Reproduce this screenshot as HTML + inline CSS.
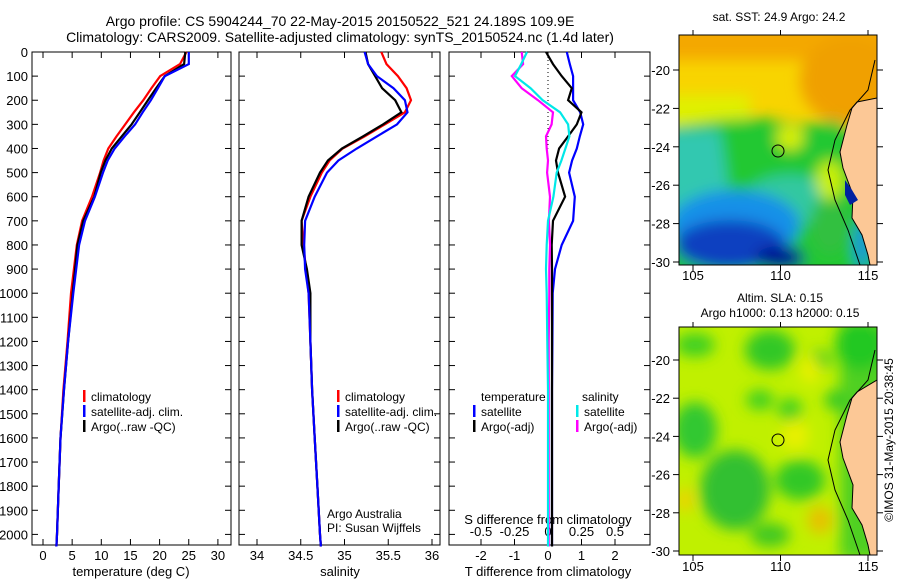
<!DOCTYPE html>
<html><head><meta charset="utf-8"><style>
body{margin:0;background:#fff}
svg{display:block}
text{font-family:"Liberation Sans",sans-serif;fill:#000}
</style></head><body>
<svg id="fig" width="900" height="580" viewBox="0 0 900 580">
<defs>
<filter id="bl" x="-20%" y="-20%" width="140%" height="140%"><feGaussianBlur stdDeviation="7"/></filter>
<clipPath id="c1"><rect x="679" y="35" width="198" height="230"/></clipPath>
<clipPath id="c2"><rect x="679" y="327" width="198" height="228"/></clipPath>
</defs>
<text x="340" y="26" font-size="14" text-anchor="middle">Argo profile: CS 5904244_70 22-May-2015 20150522_521 24.189S 109.9E</text>
<text x="340" y="42" font-size="14" text-anchor="middle">Climatology: CARS2009. Satellite-adjusted climatology: synTS_20150524.nc (1.4d later)</text>

<!-- SST map -->
<g>
<g clip-path="url(#c1)">
<rect x="679" y="35" width="198" height="230" fill="#f8d400"/>
<g filter="url(#bl)">
<rect x="660" y="130" width="240" height="160" fill="#20c040"/>
<rect x="660" y="20" width="240" height="40" fill="#f4a800"/>
<ellipse cx="850" cy="80" rx="50" ry="45" fill="#f0a000"/>
<rect x="660" y="95" width="90" height="30" fill="#e0f000"/>
<path d="M660,128 L720,120 L760,118 L800,125 L840,120 L900,280 L660,280 Z" fill="#20c830"/>
<path d="M660,130 L720,130 L730,200 L660,220 Z" fill="#30c8b0"/>
<ellipse cx="790" cy="138" rx="14" ry="12" fill="#d8f000"/>
<ellipse cx="790" cy="200" rx="45" ry="25" fill="#30c8a0"/>
<ellipse cx="735" cy="225" rx="65" ry="35" fill="#1890e8"/>
<ellipse cx="730" cy="245" rx="55" ry="25" fill="#1040c0"/>
<ellipse cx="780" cy="258" rx="25" ry="12" fill="#001890"/>
<ellipse cx="830" cy="225" rx="20" ry="30" fill="#30c040"/>
<ellipse cx="830" cy="180" rx="14" ry="20" fill="#c8f000"/>
<ellipse cx="862" cy="245" rx="8" ry="25" fill="#1890e0"/>
</g>
<path d="M877,98 L857,102 L852,108 L847,125 L840,152 L843,168 L853,195 L852,218 L862,235 L868,255 L870,265 L877,265 Z" fill="#fcc896" stroke="#000" stroke-width="1"/>
<path d="M845,180 L852,190 L858,200 L850,205 L845,195 Z" fill="#0020a0"/>
<path d="M875,60 L868,90 L850,110 L835,140 L828,170 L835,200 L848,230 L860,265" fill="none" stroke="#000" stroke-width="1"/>
</g>
<rect x="679" y="35" width="198" height="230" fill="none" stroke="#000"/>
<circle cx="778" cy="151" r="6" fill="none" stroke="#000"/>
<text x="779" y="21" font-size="12" text-anchor="middle">sat. SST: 24.9 Argo: 24.2</text>
</g>

<!-- SLA map -->
<g>
<g clip-path="url(#c2)">
<rect x="679" y="327" width="198" height="228" fill="#c0f000"/>
<g filter="url(#bl)">
<rect x="840" y="320" width="60" height="240" fill="#50d020"/>
<ellipse cx="695" cy="345" rx="20" ry="12" fill="#40d020"/>
<ellipse cx="770" cy="350" rx="25" ry="20" fill="#30c828"/>
<ellipse cx="860" cy="345" rx="25" ry="25" fill="#20c820"/>
<ellipse cx="820" cy="360" rx="12" ry="10" fill="#50d020"/>
<ellipse cx="760" cy="400" rx="14" ry="10" fill="#40d020"/>
<ellipse cx="790" cy="410" rx="12" ry="12" fill="#40d020"/>
<ellipse cx="835" cy="400" rx="10" ry="10" fill="#30c828"/>
<ellipse cx="695" cy="430" rx="22" ry="28" fill="#30c830"/>
<ellipse cx="735" cy="490" rx="35" ry="40" fill="#30c030"/>
<ellipse cx="800" cy="480" rx="25" ry="20" fill="#30c828"/>
<ellipse cx="770" cy="535" rx="20" ry="12" fill="#40c820"/>
<ellipse cx="820" cy="520" rx="12" ry="14" fill="#e8c000"/>
<ellipse cx="685" cy="500" rx="8" ry="12" fill="#f0d000"/>
<ellipse cx="795" cy="435" rx="14" ry="16" fill="#e8f000"/>
<ellipse cx="810" cy="370" rx="10" ry="14" fill="#e8f000"/>
</g>
<path d="M877,380 L857,392 L852,398 L847,415 L840,442 L843,458 L853,485 L852,508 L862,525 L868,545 L870,555 L877,555 Z" fill="#fcc896" stroke="#000" stroke-width="1"/>
<path d="M875,350 L868,380 L850,400 L835,430 L828,460 L835,490 L848,520 L860,555" fill="none" stroke="#000"/>
</g>
<rect x="679" y="327" width="198" height="228" fill="none" stroke="#000"/>
<circle cx="778" cy="440" r="6" fill="none" stroke="#000"/>
<text x="780" y="302" font-size="12" text-anchor="middle">Altim. SLA: 0.15</text>
<text x="780" y="317" font-size="12" text-anchor="middle">Argo h1000: 0.13 h2000: 0.15</text>
</g>
<text transform="translate(893,440) rotate(-90)" font-size="12" text-anchor="middle">©IMOS 31-May-2015 20:38:45</text>
<g id="dyn"></g>
</svg>
<script>
// depth levels (dbar)
const depths = [0,50,100,150,200,250,300,350,400,450,500,600,700,800,900,1000,1200,1400,1600,1800,2000,2050];
// temperature (deg C)
const tempClim  = [24.6,23.5,20.1,18.6,17.2,15.6,14.1,12.6,11.2,10.4,9.8,8.4,6.7,5.8,5.3,4.8,4.2,3.5,3.0,2.7,2.4,2.3];
const tempSat   = [25.0,25.0,20.9,19.7,18.5,17.1,15.8,14.0,12.3,11.1,10.3,8.9,7.2,6.2,5.7,5.2,4.3,3.6,3.0,2.7,2.4,2.3];
const tempArgo  = [24.4,24.2,20.9,19.4,18.0,16.6,15.2,13.5,11.8,10.7,9.9,8.8,6.9,5.9,5.5,5.1,4.3,3.6,3.0,2.7,2.4,2.3];
// salinity
const salClim = [35.42,35.48,35.61,35.71,35.76,35.69,35.46,35.23,34.98,34.83,34.74,34.61,34.51,34.53,34.56,34.59,34.61,34.63,34.66,34.69,34.72,34.73];
const salSat  = [35.23,35.27,35.37,35.56,35.69,35.72,35.60,35.37,35.14,34.93,34.80,34.66,34.55,34.54,34.55,34.59,34.61,34.63,34.66,34.69,34.72,34.73];
const salArgo = [35.24,35.27,35.35,35.43,35.58,35.65,35.44,35.21,34.97,34.81,34.72,34.59,34.51,34.51,34.57,34.61,34.61,34.63,34.66,34.69,34.72,34.73];
// differences from climatology
const tDiffSat  = [0.56,0.65,0.75,0.75,0.75,0.96,1.05,0.95,0.86,0.72,0.63,0.80,0.75,0.41,0.21,0.14,0.13,0.12,0.12,0.12,0.12,0.12];
const tDiffArgo = [-0.06,0.15,0.41,0.71,0.60,1.00,0.86,0.60,0.33,0.24,0.30,0.51,0.15,0.11,0.12,0.12,0.12,0.12,0.12,0.12,0.12,0.12];
const sDiffSat  = [-0.157,-0.20,-0.246,-0.13,-0.04,0.09,0.15,0.16,0.13,0.10,0.065,0.04,0.0,-0.01,-0.015,-0.01,-0.005,0,0,0,0,0];
const sDiffArgo = [-0.196,-0.186,-0.27,-0.196,-0.075,0.037,0.027,-0.015,-0.01,0,-0.007,0.015,0.007,0.015,0.01,0.01,0.005,0.005,0.005,0.005,0.005,0.005];
// tick labels
const depthTicks = [0,100,200,300,400,500,600,700,800,900,1000,1100,1200,1300,1400,1500,1600,1700,1800,1900,2000];
const tempTicks = [0,5,10,15,20,25,30];
const salTicks = [34,34.5,35,35.5,36];
const tDiffTicks = [-2,-1,0,1,2];
const sDiffTicks = [-0.5,-0.25,0,0.25,0.5];
const latTicks = [-20,-22,-24,-26,-28,-30];
const lonTicks = [105,110,115];

const NS='http://www.w3.org/2000/svg';
const root=document.getElementById('dyn');
function mk(tag,attrs,parent){const e=document.createElementNS(NS,tag);for(const k in attrs)e.setAttribute(k,attrs[k]);(parent||root).appendChild(e);return e;}
const TOP=52, BOT=545;
const yD = d => TOP + d*0.2412;
const xT = t => 43 + t*5.83;
const xS = s => 257 + (s-34)*87.5;
const xTd = v => 548 + v*33.5;
const xSd = v => 548 + v*134;
const panels=[[32,231],[239,440],[449,650]];

panels.forEach((p,i)=>{
  const r=mk('rect',{x:p[0],y:TOP,width:p[1]-p[0],height:BOT-TOP,fill:'none',stroke:'#000'});
  
  
  depthTicks.forEach(d=>{
    mk('line',{x1:p[0],x2:p[0]+6,y1:yD(d),y2:yD(d),stroke:'#000'});
    mk('line',{x1:p[1],x2:p[1]-6,y1:yD(d),y2:yD(d),stroke:'#000'});
  });
});
depthTicks.forEach(d=>{
  const t=mk('text',{x:28,y:yD(d)+5,'font-size':13,'text-anchor':'end'});
  
  
  t.textContent=d;
});
function xticks(vals,fx,p,y,ly,name){
  vals.forEach(v=>{
    const x=fx(v);
    mk('line',{x1:x,x2:x,y1:BOT,y2:BOT-6,stroke:'#000'});
    mk('line',{x1:x,x2:x,y1:TOP,y2:TOP+6,stroke:'#000'});
    const t=mk('text',{x:x,y:ly,'font-size':13,'text-anchor':'middle'});
    
    
    t.textContent=v;
  });
}
xticks(tempTicks,xT,panels[0],BOT,560,'temperature-tick-label');
xticks(salTicks,xS,panels[1],BOT,560,'salinity-tick-label');
xticks(tDiffTicks,xTd,panels[2],BOT,560,'t-diff-tick-label');
sDiffTicks.forEach(v=>{
  const t=mk('text',{x:xSd(v),y:536,'font-size':13,'text-anchor':'middle'});
  
  
  t.textContent=v;
});
function label(x,y,s,name,anchor,fs){const t=mk('text',{x:x,y:y,'font-size':fs||13,'text-anchor':anchor||'middle'});t.textContent=s;return t;}
label(131,576,'temperature (deg C)','x-axis-title-temperature');
label(340,576,'salinity','x-axis-title-salinity');
label(548,576,'T difference from climatology','x-axis-title-t-diff');
label(548,524,'S difference from climatology','s-diff-axis-title');

// zero dotted line
mk('line',{x1:548,x2:548,y1:TOP,y2:yD(400),stroke:'#000','stroke-dasharray':'1,3'});

function series(vals,fx,color,name){
  const pts=vals.map((v,i)=>fx(v).toFixed(1)+','+yD(depths[i]).toFixed(1)).join(' ');
  const pl=mk('polyline',{points:pts,fill:'none',stroke:color,'stroke-width':2.2});
  
  
}
series(tempClim,xT,'#ff0000','temp-climatology-line');
series(tempArgo,xT,'#000000','temp-argo-line');
series(tempSat,xT,'#0000ff','temp-satellite-line');
series(salClim,xS,'#ff0000','sal-climatology-line');
series(salArgo,xS,'#000000','sal-argo-line');
series(salSat,xS,'#0000ff','sal-satellite-line');
series(tDiffSat,xTd,'#0000ff','tdiff-satellite-line');
series(tDiffArgo,xTd,'#000000','tdiff-argo-line');
series(sDiffArgo,xSd,'#ff00ff','sdiff-argo-line');
series(sDiffSat,xSd,'#00e8e8','sdiff-satellite-line');

function legend(x,y,color,s,name){
  mk('rect',{x:x,y:y-11,width:2.5,height:12,fill:color});
  label(x+8,y,s,name,'start',12);
}
legend(83,401,'#ff0000','climatology','legend-climatology');
legend(83,416,'#0000ff','satellite-adj. clim.','legend-satellite-adj');
legend(83,431,'#000000','Argo(..raw -QC)','legend-argo');
legend(337,401,'#ff0000','climatology','legend-climatology-2');
legend(337,416,'#0000ff','satellite-adj. clim.','legend-satellite-adj-2');
legend(337,431,'#000000','Argo(..raw -QC)','legend-argo-2');
label(481,401,'temperature','legend-temperature-header','start',12);
legend(473,416,'#0000ff','satellite','legend-t-satellite');
legend(473,431,'#000000','Argo(-adj)','legend-t-argo');
label(582,401,'salinity','legend-salinity-header','start',12);
legend(576,416,'#00e8e8','satellite','legend-s-satellite');
legend(576,431,'#ff00ff','Argo(-adj)','legend-s-argo');
label(327,518,'Argo Australia','credit-argo-australia','start',12);
label(327,532,'PI: Susan Wijffels','credit-pi','start',12);

// map axes
const yLat1 = l => 70 + (-20-l)*19.2;
const yLat2 = l => 360 + (-20-l)*19.1;
const xLon = l => 693 + (l-105)*17.5;
[[yLat1,35,265,280],[yLat2,327,555,571]].forEach((m,mi)=>{
  latTicks.forEach(l=>{
    const y=m[0](l);
    mk('line',{x1:679,x2:673,y1:y,y2:y,stroke:'#000'});
    mk('line',{x1:877,x2:883,y1:y,y2:y,stroke:'#000'});
    label(670,y+5,String(l),'map'+(mi+1)+'-lat-label','end',13);
  });
  lonTicks.forEach(l=>{
    const x=xLon(l);
    mk('line',{x1:x,x2:x,y1:m[2],y2:m[2]+6,stroke:'#000'});
    mk('line',{x1:x,x2:x,y1:m[1],y2:m[1]-5,stroke:'#000'});
    label(x,m[3],String(l),'map'+(mi+1)+'-lon-label','middle',13);
  });
});
</script>
</body></html>
